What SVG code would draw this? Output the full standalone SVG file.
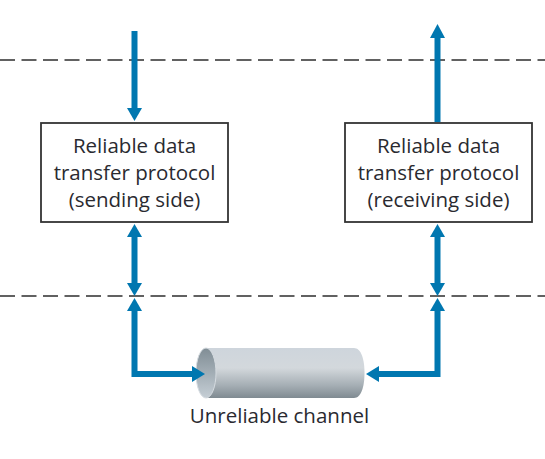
<svg xmlns="http://www.w3.org/2000/svg" width="545" height="459" viewBox="0 0 545 459">
<style>
.t{font-family:"Open Sans","Noto Sans","DejaVu Sans",sans-serif;font-size:20.500px;fill:#2a2a30;text-anchor:middle}
.box{fill:#fff;stroke:#333;stroke-width:1.8}
.dash{fill:none;stroke:#2e2e2e;stroke-width:1.600;stroke-dasharray:15 6.500}
.c{fill:none;stroke:#0077b0;stroke-width:6}
.h{fill:#0077b0}
</style>
<defs>
<linearGradient id="body" x1="0" y1="0" x2="0" y2="1">
<stop offset="0" stop-color="#ced5dc"/><stop offset=".4" stop-color="#d3d8dc"/><stop offset=".75" stop-color="#a5aeb4"/><stop offset="1" stop-color="#7f8a91"/>
</linearGradient>
<linearGradient id="hole" x1="0" y1="0" x2="0" y2="1">
<stop offset="0" stop-color="#808d95"/><stop offset="1" stop-color="#c5ced5"/>
</linearGradient>
</defs>
<g id="boundaries">
<path class="dash" d="M0 60H545"/>
<path class="dash" d="M0 296H545"/>
</g>
<g id="channel">
<path d="M206 348H354C361 348 364.500 359 364.500 373C364.500 387 361 398 354 398H206Z" fill="url(#body)"/>
<ellipse cx="206" cy="373" rx="10" ry="25" fill="url(#hole)" stroke="#d5dbe0" stroke-width="1"/>
<text class="t" x="279.500" y="423">Unreliable channel</text>
</g>
<g id="sender">
<rect class="box" x="41" y="123" width="187" height="99"/>
<text class="t" x="134.500" y="153">Reliable data</text>
<text class="t" x="134.500" y="180">transfer protocol</text>
<text class="t" x="134.500" y="207">(sending side)</text>
</g>
<g id="receiver">
<rect class="box" x="345" y="123" width="187" height="99"/>
<text class="t" x="438.500" y="153">Reliable data</text>
<text class="t" x="438.500" y="180">transfer protocol</text>
<text class="t" x="438.500" y="207">(receiving side)</text>
</g>
<g id="connectors">
<path class="c" d="M134.500 31V110"/>
<path class="h" d="M127 108H142L134.500 121Z"/>
<path class="c" d="M134.500 236V284"/>
<path class="h" d="M127 237H142L134.500 224Z"/>
<path class="h" d="M127 283H142L134.500 296Z"/>
<path class="c" d="M134.500 310V374H193"/>
<path class="h" d="M127 311H142L134.500 298Z"/>
<path class="h" d="M192 366V382L205 374Z"/>
<path class="c" d="M437.500 122V36"/>
<path class="h" d="M430 38H445L437.500 24Z"/>
<path class="c" d="M437.500 236V284"/>
<path class="h" d="M430 237H445L437.500 224Z"/>
<path class="h" d="M430 283H445L437.500 296Z"/>
<path class="c" d="M437.500 310V374H378"/>
<path class="h" d="M430 311H445L437.500 298Z"/>
<path class="h" d="M379 366V382L366 374Z"/>
</g>
</svg>
